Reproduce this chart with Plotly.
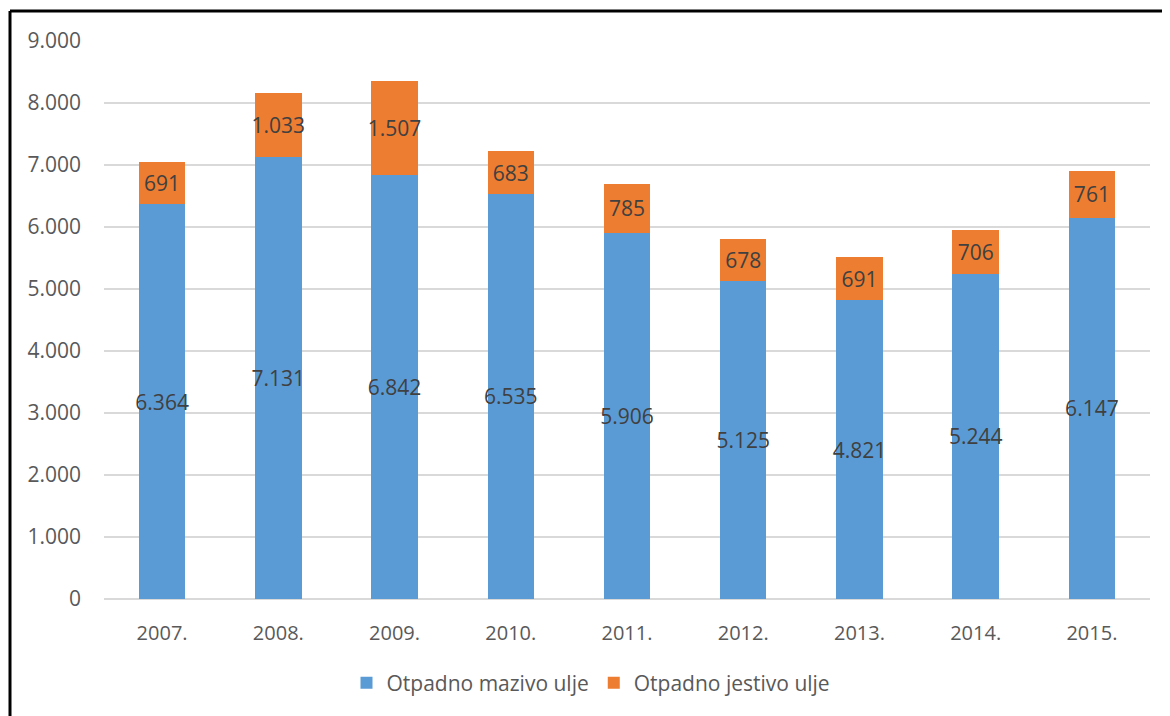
import plotly.graph_objects as go

# Waste oil quantities per year
years = ["2007.", "2008.", "2009.", "2010.", "2011.", "2012.", "2013.", "2014.", "2015."]
mazivo = [6364, 7131, 6842, 6535, 5906, 5125, 4821, 5244, 6147]
jestivo = [691, 1033, 1507, 683, 785, 678, 691, 706, 761]
y_ticks = [0, 1000, 2000, 3000, 4000, 5000, 6000, 7000, 8000, 9000]

BLUE = "#5B9BD5"
ORANGE = "#ED7D31"
TEXT = "#404040"
FONT = "Open Sans, sans-serif"

fig = go.Figure()
for name, vals, color in [("Otpadno mazivo ulje", mazivo, BLUE),
                          ("Otpadno jestivo ulje", jestivo, ORANGE)]:
    fig.add_trace(go.Bar(
        x=years, y=vals, name=name,
        marker=dict(color=color, line=dict(width=0)),
        texttemplate="%{y:,.0f}",
        textposition="inside",
        insidetextanchor="middle",
        textangle=0,
        constraintext="none",
        textfont=dict(size=21, color=TEXT, family=FONT),
    ))

# page puts the figure 8px in from the top-left corner
OFF = 8
W, H = 1170 - OFF, 716 - OFF
L, T = 104 - OFF, 41 - OFF
R = W - (1150 - OFF)
B = H - (599 - OFF)
pw, ph = W - L - R, H - T - B

def px_x(p):
    return (p - OFF - L) / pw

def px_y(p):
    return (H - B - (p - OFF)) / ph

# Frame around the chart (left and top edges visible)
frame = dict(type="line", xref="paper", yref="paper", line=dict(color="black", width=3))
fig.add_shape(**frame, x0=px_x(10), x1=px_x(10), y0=px_y(11), y1=px_y(730))
fig.add_shape(**frame, x0=px_x(10), x1=px_x(1180), y0=px_y(11), y1=px_y(11))

fig.update_layout(
    width=W, height=H,
    barmode="stack",
    bargap=0.6,
    separators=",.",
    margin=dict(l=L, r=R, t=T, b=B),
    paper_bgcolor="white",
    plot_bgcolor="white",
    font=dict(family=FONT, color="#595959", size=20),
    xaxis=dict(showgrid=False, showline=False, ticks="", ticklabelstandoff=20,
               tickfont=dict(size=20, color="#595959")),
    yaxis=dict(range=[0, 9000], tickvals=y_ticks, tickformat=",.0f",
               showgrid=True, gridcolor="#D9D9D9", gridwidth=1.5,
               zeroline=True, zerolinecolor="#D9D9D9", zerolinewidth=1.5,
               showline=False, ticks="", ticklabelstandoff=22,
               tickfont=dict(size=21, color="#595959")),
    legend=dict(orientation="h", x=px_x(591), xanchor="center",
                y=px_y(683), yanchor="middle",
                font=dict(size=21, color="#595959"), traceorder="normal",
                itemwidth=30),
)

fig.write_html("out.html")
